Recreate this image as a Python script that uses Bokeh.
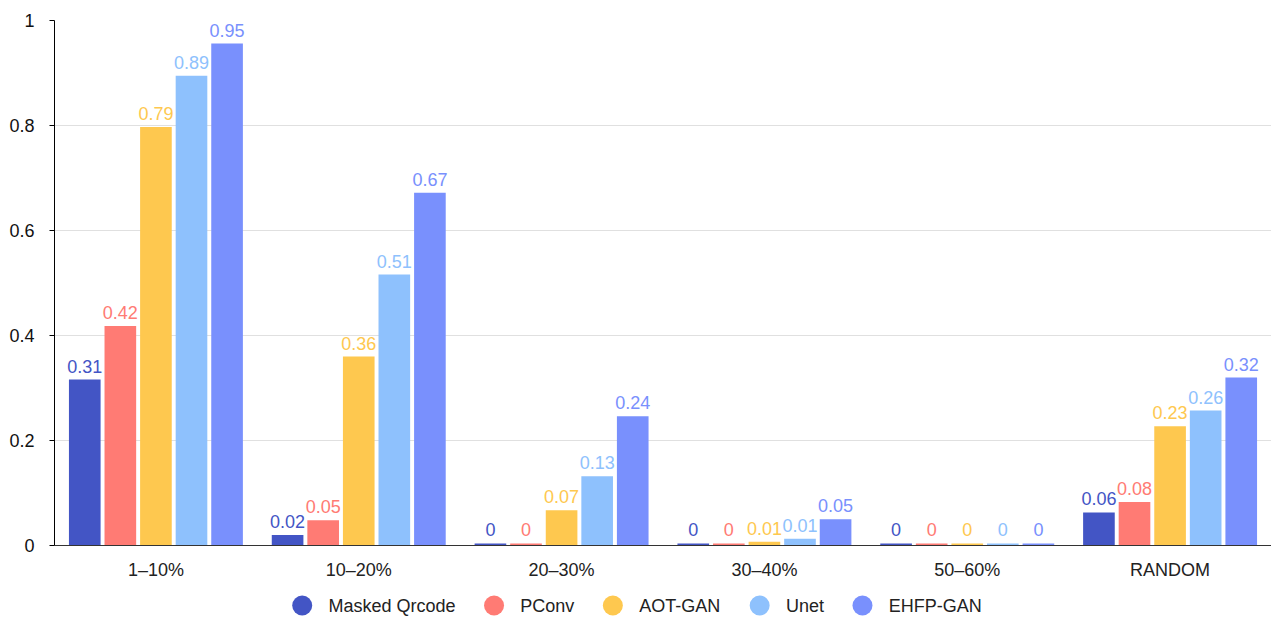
from bokeh.plotting import figure
from bokeh.models import FactorRange, Range1d, ColumnDataSource, FixedTicker, NumeralTickFormatter
from bokeh.layouts import column
from bokeh.transform import dodge
from bokeh.core.properties import value
from bokeh.embed import file_html
from bokeh.resources import INLINE

# ---------------- data ----------------
categories = ["1–10%", "10–20%", "20–30%", "30–40%", "50–60%", "RANDOM"]
series = ["Masked Qrcode", "PConv", "AOT-GAN", "Unet", "EHFP-GAN"]
colors = ["#4355c5", "#ff7b74", "#fec84f", "#8ec1fd", "#7990fd"]

masked_qrcode = [0.316, 0.020, 0.004, 0.004, 0.004, 0.063]
pconv = [0.418, 0.048, 0.004, 0.004, 0.004, 0.083]
aot_gan = [0.797, 0.360, 0.067, 0.007, 0.004, 0.227]
unet = [0.895, 0.516, 0.132, 0.013, 0.004, 0.257]
ehfp_gan = [0.956, 0.672, 0.246, 0.050, 0.004, 0.320]

masked_labels = ["0.31", "0.02", "0", "0", "0", "0.06"]
pconv_labels = ["0.42", "0.05", "0", "0", "0", "0.08"]
aot_labels = ["0.79", "0.36", "0.07", "0.01", "0", "0.23"]
unet_labels = ["0.89", "0.51", "0.13", "0.01", "0", "0.26"]
ehfp_labels = ["0.95", "0.67", "0.24", "0.05", "0", "0.32"]

y_ticks = [0, 0.2, 0.4, 0.6, 0.8, 1]

values_all = [masked_qrcode, pconv, aot_gan, unet, ehfp_gan]
labels_all = [masked_labels, pconv_labels, aot_labels, unet_labels, ehfp_labels]

FONT = "Liberation Sans"
LEFT = 54
W, H_MAIN, H_LEG = 1271, 590, 27

# ---------------- main chart ----------------
p = figure(
    x_range=FactorRange(factors=categories, range_padding=0),
    y_range=Range1d(0, 1),
    width=W, height=H_MAIN,
    output_backend="svg", toolbar_location=None,
    min_border_left=LEFT, min_border_right=0,
    min_border_top=20, min_border_bottom=45,
)
p.outline_line_color = None

slot = 0.1754
bar_w = 0.156
label_gap = 13.5 / 525.0  # lift of label anchor above bar top, in data units
for i, (vals, labs, col) in enumerate(zip(values_all, labels_all, colors)):
    src = ColumnDataSource(dict(x=categories, top=vals, label=labs,
                                ly=[v + label_gap for v in vals]))
    off = (i - 2) * slot
    p.vbar(x=dodge("x", off, range=p.x_range), top="top", width=bar_w,
           fill_color=col, line_color=None, source=src)
    p.text(x=dodge("x", off, range=p.x_range), y="ly", text="label",
           text_align="center", text_baseline="alphabetic",
           text_color=col, text_font=value(FONT), text_font_size="18px",
           source=src)

p.xgrid.visible = False
p.ygrid.ticker = FixedTicker(ticks=y_ticks)
p.ygrid.grid_line_color = "#e0e0e0"

yax = p.yaxis[0]
yax.ticker = FixedTicker(ticks=y_ticks)
yax.formatter = NumeralTickFormatter(format="0.[0]")
yax.axis_line_color = "#000000"
yax.major_tick_line_color = "#000000"
yax.major_tick_in = 0
yax.major_tick_out = 5
yax.minor_tick_line_color = None
yax.major_label_standoff = 15
yax.major_label_text_font = FONT
yax.major_label_text_font_size = "18px"
yax.major_label_text_color = "#111111"

xax = p.xaxis[0]
xax.axis_line_color = "#333333"
xax.major_tick_line_color = None
xax.major_tick_in = 0
xax.major_tick_out = 0
xax.major_label_standoff = 14
xax.major_label_text_font = FONT
xax.major_label_text_font_size = "18px"
xax.major_label_text_color = "#222222"

# ---------------- legend strip ----------------
ARIAL = {"M": 833, "a": 556, "s": 500, "k": 500, "e": 556, "d": 556, " ": 278,
         "Q": 778, "r": 333, "c": 500, "o": 556, "P": 667, "C": 722, "n": 556,
         "v": 500, "A": 667, "O": 778, "T": 611, "-": 333, "G": 778, "N": 722,
         "U": 722, "t": 278, "E": 667, "H": 722, "F": 611}


def text_w(s, size):
    return sum(ARIAL.get(ch, 556) for ch in s) * size / 1000.0


# legend frame aligned with the main frame; x data units == page pixels
lf = figure(width=W, height=H_LEG,
            x_range=Range1d(LEFT, W), y_range=Range1d(0, H_LEG),
            output_backend="svg", toolbar_location=None,
            x_axis_location=None, y_axis_location=None,
            min_border=0, min_border_left=LEFT, min_border_right=0,
            min_border_top=0, min_border_bottom=0)
lf.outline_line_color = None
lf.grid.visible = False

leg_size = 18
x = 291.7
cx, tx = [], []
for name in series:
    cx.append(x + 10)
    tx.append(x + 36.3)
    x = x + 36.3 + text_w(name, leg_size) + 28.5

lsrc = ColumnDataSource(dict(cx=cx, tx=tx, y=[12] * len(series), name=series, color=colors))
lf.scatter(x="cx", y="y", size=20, marker="circle", fill_color="color",
           line_color=None, source=lsrc)
lf.text(x="tx", y="y", text="name", text_align="left", text_baseline="middle",
        text_font=value(FONT), text_font_size=f"{leg_size}px", text_color="#222222",
        source=lsrc)

layout = column(p, lf, spacing=0)
open("out.html", "w").write(file_html(layout, INLINE))
